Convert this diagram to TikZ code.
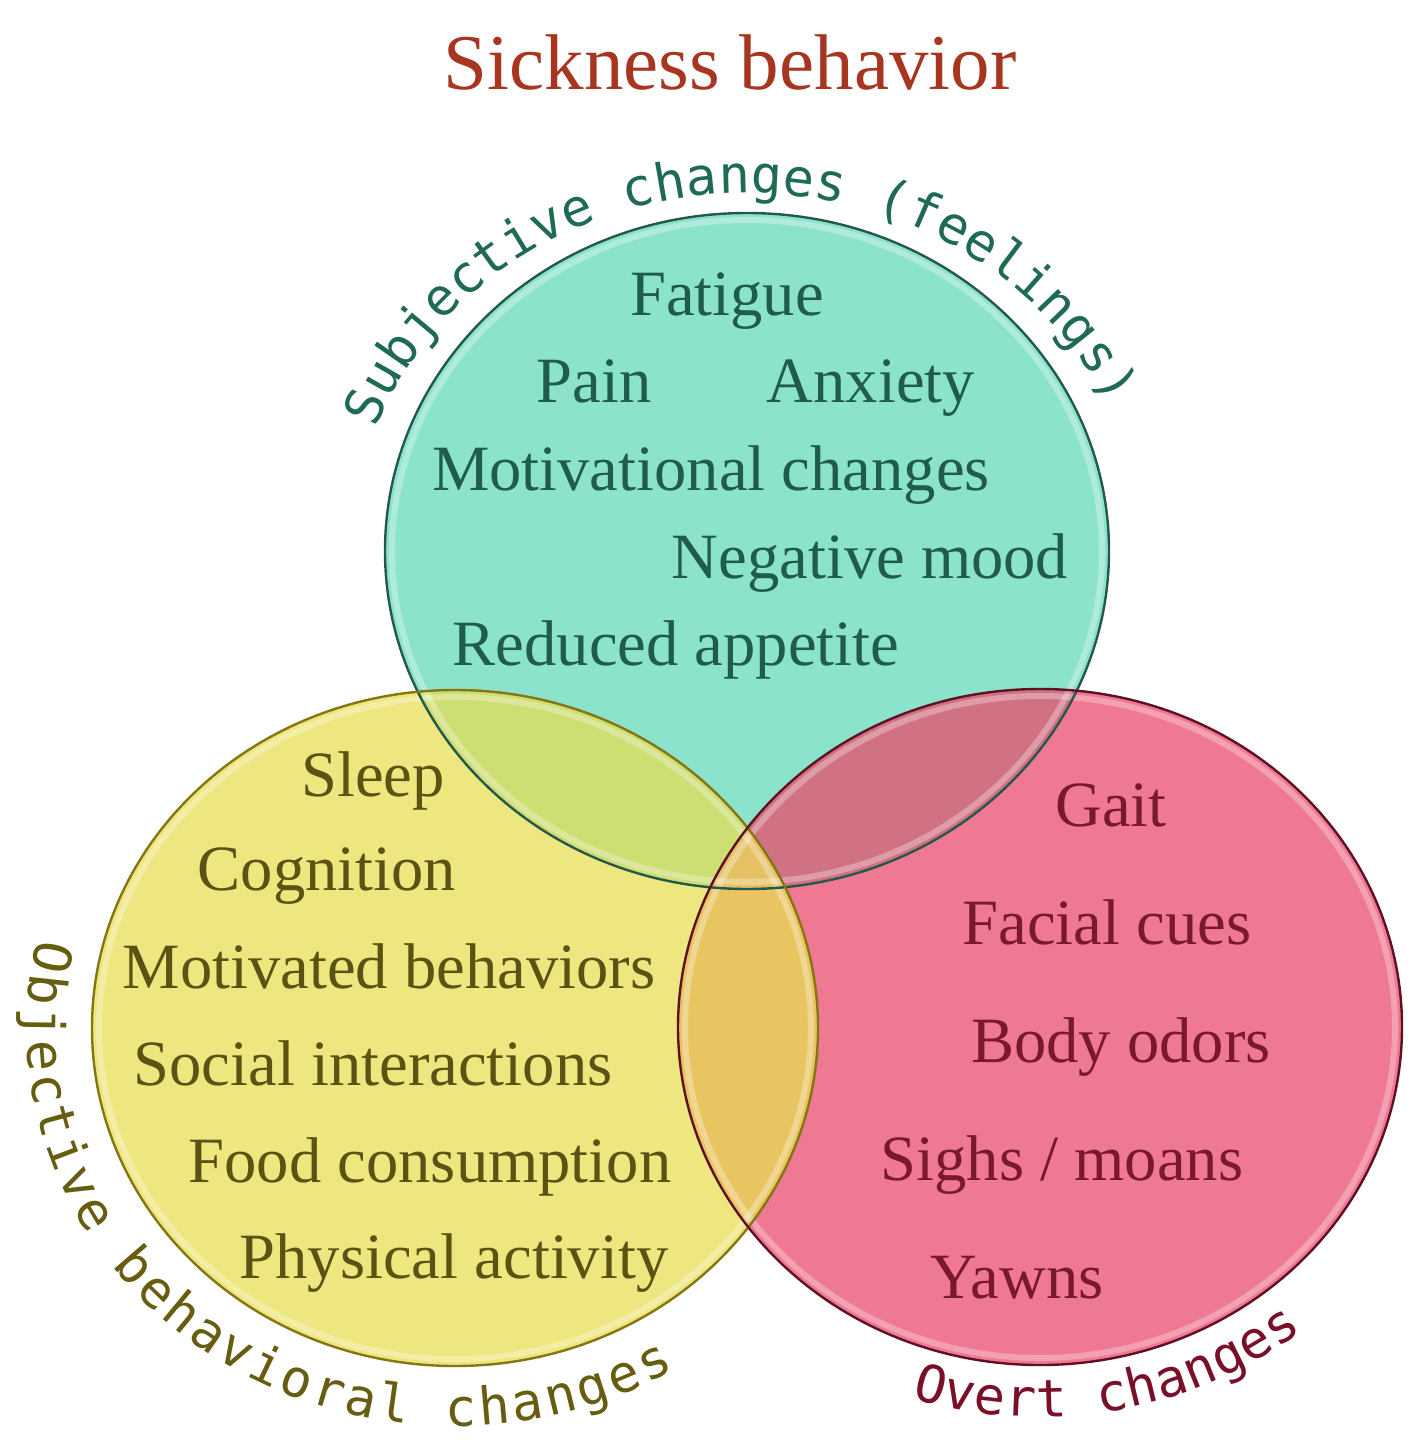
\documentclass[tikz,border=0pt]{standalone}
\usepackage{fontspec}
\setmainfont{Liberation Serif}
\newfontfamily\arcfont{DejaVu Sans Mono}
\usetikzlibrary{decorations.text}

\definecolor{tealfill}{HTML}{8CE3CC}
\definecolor{yellowfill}{HTML}{EEE67F}
\definecolor{pinkfill}{HTML}{EF7892}
\definecolor{tyfill}{HTML}{CDDE72}
\definecolor{tpfill}{HTML}{D17283}
\definecolor{ypfill}{HTML}{E9C562}
\definecolor{allfill}{HTML}{E6C163}
\definecolor{tealline}{HTML}{24584C}
\definecolor{yellowline}{HTML}{857612}
\definecolor{pinkline}{HTML}{5E1024}
\definecolor{tealtext}{HTML}{1F5C4C}
\definecolor{yellowtext}{HTML}{5B5313}
\definecolor{pinktext}{HTML}{7A1830}
\definecolor{subjtext}{HTML}{1E6A56}
\definecolor{objtext}{HTML}{675D10}
\definecolor{overttext}{HTML}{7A1028}
\definecolor{titletext}{HTML}{A8351F}
\newcommand\arclabelfont{\arcfont\fontsize{26}{30}\selectfont}

\begin{document}
\begin{tikzpicture}[
    x=0.5pt, y=-0.5pt,
    item/.style={anchor=base, inner sep=0pt, font=\fontsize{32.3}{36}\selectfont},
    tealitem/.style={item, text=tealtext},
    yellowitem/.style={item, text=yellowtext},
    pinkitem/.style={item, text=pinktext},
    glow/.style={white, opacity=0.3, line width=3pt},
    arclabel/.style={decorate, decoration={text along path, text align={fit to path}, text color=#1}}
]
    \useasboundingbox (0,0) rectangle (1424,1454);
    \coordinate (tc) at (747,551);
    \coordinate (yc) at (455,1028);
    \coordinate (pc) at (1040,1027);

    % circles and their overlaps
    \fill[tealfill] (tc) ellipse [x radius=362, y radius=338];
    \fill[yellowfill] (yc) ellipse [x radius=363, y radius=338];
    \fill[pinkfill] (pc) ellipse [x radius=362, y radius=338];
    \begin{scope}
        \clip (tc) ellipse [x radius=362, y radius=338];
        \fill[tyfill] (yc) ellipse [x radius=363, y radius=338];
        \fill[tpfill] (pc) ellipse [x radius=362, y radius=338];
    \end{scope}
    \begin{scope}
        \clip (yc) ellipse [x radius=363, y radius=338];
        \fill[ypfill] (pc) ellipse [x radius=362, y radius=338];
        \clip (tc) ellipse [x radius=362, y radius=338];
        \fill[allfill] (pc) ellipse [x radius=362, y radius=338];
    \end{scope}
    \draw[glow] (tc) ellipse [x radius=355, y radius=331];
    \draw[glow] (yc) ellipse [x radius=356, y radius=331];
    \draw[glow] (pc) ellipse [x radius=355, y radius=331];
    \draw[tealline, line width=1.2pt] (tc) ellipse [x radius=362, y radius=338];
    \draw[yellowline, line width=1.2pt] (yc) ellipse [x radius=363, y radius=338];
    \draw[pinkline, line width=1.2pt] (pc) ellipse [x radius=362, y radius=338];

    \node[anchor=base, text=titletext, font=\fontsize{39.5}{44}\selectfont] (title) at (730,90) {Sickness behavior};

    % labels round the circles
    \path[arclabel=subjtext, decoration={text={|\arclabelfont|Subjective changes (feelings)}}]
        (tc) ++(200:395 and 358) arc [start angle=200, end angle=335, x radius=395, y radius=358];
    \path[arclabel=objtext, decoration={text={|\arclabelfont|Objective behavioral changes}}]
        (yc) ++(193:428 and 398) arc [start angle=193, end angle=59, x radius=428, y radius=398];
    \path[arclabel=overttext, decoration={text={|\arclabelfont|Overt changes}}]
        (pc) ++(108:417 and 390) arc [start angle=108, end angle=51, x radius=417, y radius=390];

    % subjective
    \node[tealitem] (fatigue) at (727,316) {Fatigue};
    \node[tealitem] (pain) at (594,402) {Pain};
    \node[tealitem] (anxiety) at (871,402) {Anxiety};
    \node[tealitem] (motiv) at (711,490) {Motivational changes};
    \node[tealitem] (mood) at (870,578) {Negative mood};
    \node[tealitem] (appetite) at (676,665) {Reduced appetite};

    % objective
    \node[yellowitem] (sleep) at (373,796) {Sleep};
    \node[yellowitem] (cognition) at (327,890) {Cognition};
    \node[yellowitem] (motbeh) at (389,988) {Motivated behaviors};
    \node[yellowitem] (social) at (373,1085) {Social interactions};
    \node[yellowitem] (food) at (430,1182) {Food consumption};
    \node[yellowitem] (physical) at (454,1278) {Physical activity};

    % overt
    \node[pinkitem] (gait) at (1111,826) {Gait};
    \node[pinkitem] (facial) at (1107,944) {Facial cues};
    \node[pinkitem] (odors) at (1121,1062) {Body odors};
    \node[pinkitem] (sighs) at (1062,1180) {Sighs / moans};
    \node[pinkitem] (yawns) at (1017,1298) {Yawns};
\end{tikzpicture}
\end{document}
